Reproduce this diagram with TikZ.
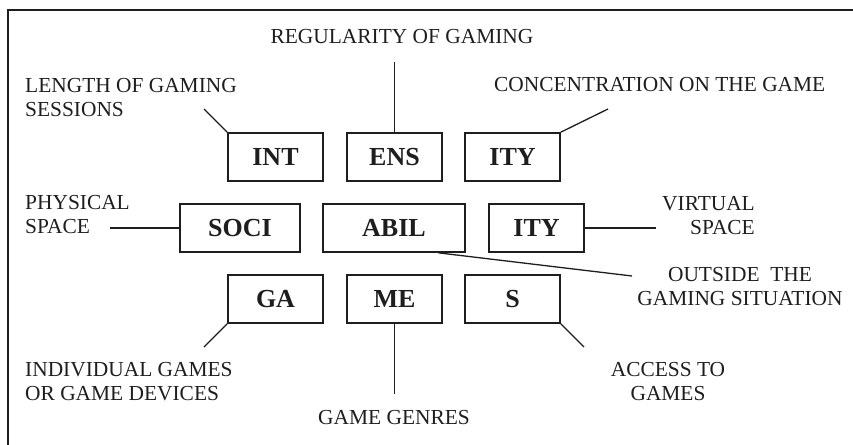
\documentclass[tikz,border=0pt]{standalone}
\usepackage{fontspec}
\setmainfont{Liberation Serif}
\usetikzlibrary{calc}
\definecolor{ink}{HTML}{1E1E1E}
\begin{document}
\begin{tikzpicture}[x=1pt,y=-1pt,
  every node/.style={text=ink},
  catbox/.style={draw=ink, line width=1.7pt, minimum height=48pt, inner sep=0pt,
    font=\fontsize{26}{30}\selectfont\bfseries},
  lbl/.style={inner sep=0pt, font=\fontsize{21.4}{23.5}\selectfont},
  conn/.style={draw=ink, line width=1.3pt}]
\useasboundingbox (0,0) rectangle (853,444);
% frame (only top and left edges visible)
\draw[ink, line width=2.6pt] (8,460) -- (8,10) -- (870,10);

% boxes
\node[catbox, minimum width=95pt]  (int)  at (275.5,157) {INT};
\node[catbox, minimum width=95pt]  (ens)  at (394.5,157) {ENS};
\node[catbox, minimum width=95pt]  (ityt) at (512.5,157) {ITY};
\node[catbox, minimum width=120pt] (soci) at (240,228) {SOCI};
\node[catbox, minimum width=142pt] (abil) at (394,228) {ABIL};
\node[catbox, minimum width=95pt]  (itym) at (536.5,228) {ITY};
\node[catbox, minimum width=95pt]  (ga)   at (275.5,299) {GA};
\node[catbox, minimum width=95pt]  (me)   at (394.5,299) {ME};
\node[catbox, minimum width=95pt]  (s)    at (512.5,299) {S};

% labels (base anchor = baseline of the last line)
\node[lbl, anchor=base] (reg) at (402,44) {REGULARITY OF GAMING};
\node[lbl, anchor=base west, align=left] (len) at (25,116) {LENGTH OF GAMING\\SESSIONS};
\node[lbl, anchor=base west] (con) at (494,91) {CONCENTRATION ON THE GAME};
\node[lbl, anchor=base west, align=left] (phy) at (25,233) {PHYSICAL\\SPACE};
\node[lbl, anchor=base east, align=right] (vir) at (755,234) {VIRTUAL\\SPACE};
\node[lbl, anchor=base, align=center] (out) at (740,305) {OUTSIDE\ \ THE\\GAMING SITUATION};
\node[lbl, anchor=base west, align=left] (ind) at (25,400) {INDIVIDUAL GAMES\\OR GAME DEVICES};
\node[lbl, anchor=base] (gen) at (394,424) {GAME GENRES};
\node[lbl, anchor=base, align=center] (acc) at (668,400) {ACCESS TO\\GAMES};

% connector free ends
\coordinate (cLen) at (204,109);
\coordinate (cReg) at (394.5,62);
\coordinate (cCon) at (608,109);
\coordinate (cPhy) at (110,228);
\coordinate (cVir) at (656,228);
\coordinate (cOut) at (632,276);
\coordinate (cInd) at (204,347);
\coordinate (cGen) at (394.5,394);
\coordinate (cAcc) at (584,347);

% connectors
\draw[conn] (int.north west) -- (cLen);
\draw[conn] (ens.north) -- (cReg);
\draw[conn] (ityt.north east) -- (cCon);
\draw[conn] (soci.west) -- (cPhy);
\draw[conn] (itym.east) -- (cVir);
\draw[conn] ($(abil.south east)!0.38!(abil.south)$) -- (cOut);
\draw[conn] (ga.south west) -- (cInd);
\draw[conn] (me.south) -- (cGen);
\draw[conn] (s.south east) -- (cAcc);
\end{tikzpicture}
\end{document}
